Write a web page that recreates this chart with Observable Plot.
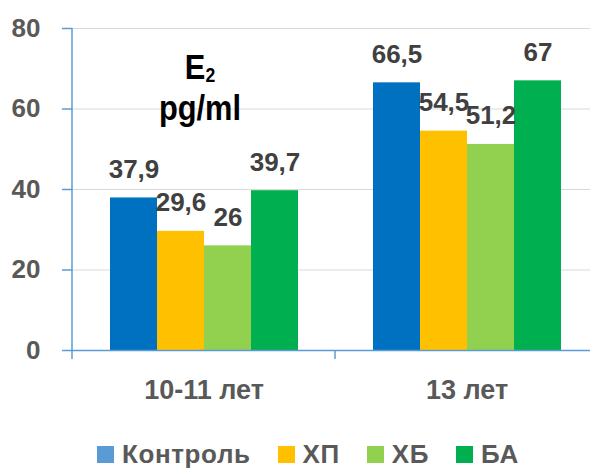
<!DOCTYPE html>
<html>
<head>
<meta charset="utf-8">
<script src="https://cdn.jsdelivr.net/npm/d3@7"></script>
<script src="https://cdn.jsdelivr.net/npm/@observablehq/plot@0.6"></script>
<style>
  html, body { margin: 0; padding: 0; background: #fff; overflow: hidden; }
  #wrap { position: relative; width: 590px; height: 470px; overflow: hidden;
          font-family: "Liberation Sans", Arial, sans-serif; }
  #chart { position: absolute; left: 0; top: 0; }
  #note { position: absolute; left: 100px; top: 46px; width: 200px; text-align: center;
          font-size: 35px; line-height: 41px; font-weight: bold; color: #000;
          transform: scaleX(0.88); transform-origin: center; }
  #note sub { font-size: 20px; line-height: 0; vertical-align: -3px; }
  #legend { position: absolute; left: 97px; top: 441px; display: flex; align-items: center;
            font-size: 26px; line-height: 26px; letter-spacing: 0.6px; font-weight: bold; color: #595959; }
  #legend .item { display: flex; align-items: center; margin-right: 27px; }
  #legend .sw { width: 17px; height: 17px; margin-right: 8px; }
</style>
</head>
<body>
<div id="wrap">
  <div id="chart"></div>
  <div id="note">E<sub>2</sub><br>pg/ml</div>
  <div id="legend"></div>
</div>
<script>
// Age groups and series
const groups = ["10-11 лет", "13 лет"];
const series = ["Контроль", "ХП", "ХБ", "БА"];
const barColors = ["#0070C0", "#FFC000", "#92D050", "#00B050"];
const legendColors = ["#5B9BD5", "#FFC000", "#92D050", "#00B050"];

// E2 level (pg/ml) per series, in group order
const control = [37.9, 66.5];
const hp = [29.6, 54.5];
const hb = [26, 51.2];
const ba = [39.7, 67];

const yTicks = [0, 20, 40, 60, 80];

const rows = [];
[control, hp, hb, ba].forEach((vals, i) =>
  vals.forEach((v, j) => rows.push({group: groups[j], series: series[i], value: v}))
);

const fmt = v => String(v).replace(".", ",");
const axisBlue = "#5B9BD5";
const font = "'Liberation Sans', Arial, sans-serif";

const plot = Plot.plot({
  width: 598,
  height: 420,
  marginLeft: 72,
  marginRight: 0,
  marginTop: 28,
  marginBottom: 70,
  style: {fontFamily: font, maxWidth: "none", background: "transparent", overflow: "visible"},
  fx: {domain: groups, padding: 0, label: null},
  x: {domain: series, paddingInner: 0, paddingOuter: 0.74, axis: null},
  y: {domain: [0, 80], label: null},
  color: {domain: series, range: barColors},
  marks: [
    Plot.gridY(yTicks.filter(t => t > 0), {stroke: "#D9D9D9", strokeOpacity: 1}),
    Plot.barY(rows, {fx: "group", x: "series", y: "value", fill: "series"}),
    Plot.ruleY([0], {stroke: axisBlue, strokeWidth: 1.5}),
    Plot.text(rows, {
      fx: "group", x: "series", y: "value", text: d => fmt(d.value),
      dy: -20, lineAnchor: "bottom", fontSize: 26, fontWeight: "bold", fill: "#404040"
    }),
    Plot.axisY({
      ticks: yTicks, tickSize: 10, tickPadding: 22, tickFormat: d => String(d),
      stroke: axisBlue, strokeWidth: 1.5, fill: "#595959", fontSize: 26, fontWeight: "bold", label: null
    }),
    Plot.axisFx({
      anchor: "bottom", tickSize: 0, tickPadding: 29,
      fill: "#595959", fontSize: 27, fontWeight: "bold", label: null
    })
  ]
});

// Vertical axis line and category boundary ticks, placed with the plot's own scales
const fxs = plot.scale("fx");
const ys = plot.scale("y");
const svg = d3.select(plot);
const y0 = ys.apply(0), yTop = ys.apply(80);
const left = fxs.apply(groups[0]);
const edges = groups.map(g => fxs.apply(g)).concat(fxs.apply(groups[groups.length - 1]) + fxs.bandwidth);
const g = svg.append("g").attr("stroke", axisBlue).attr("stroke-width", 1.5);
g.append("line").attr("x1", left).attr("x2", left).attr("y1", yTop).attr("y2", y0);
edges.forEach(x => g.append("line").attr("x1", x).attr("x2", x).attr("y1", y0).attr("y2", y0 + 9));

document.getElementById("chart").appendChild(plot);

// Legend
const legend = d3.select("#legend");
series.forEach((s, i) => {
  const item = legend.append("div").attr("class", "item");
  item.append("div").attr("class", "sw").style("background", legendColors[i]);
  item.append("span").text(s);
});
</script>
</body>
</html>
